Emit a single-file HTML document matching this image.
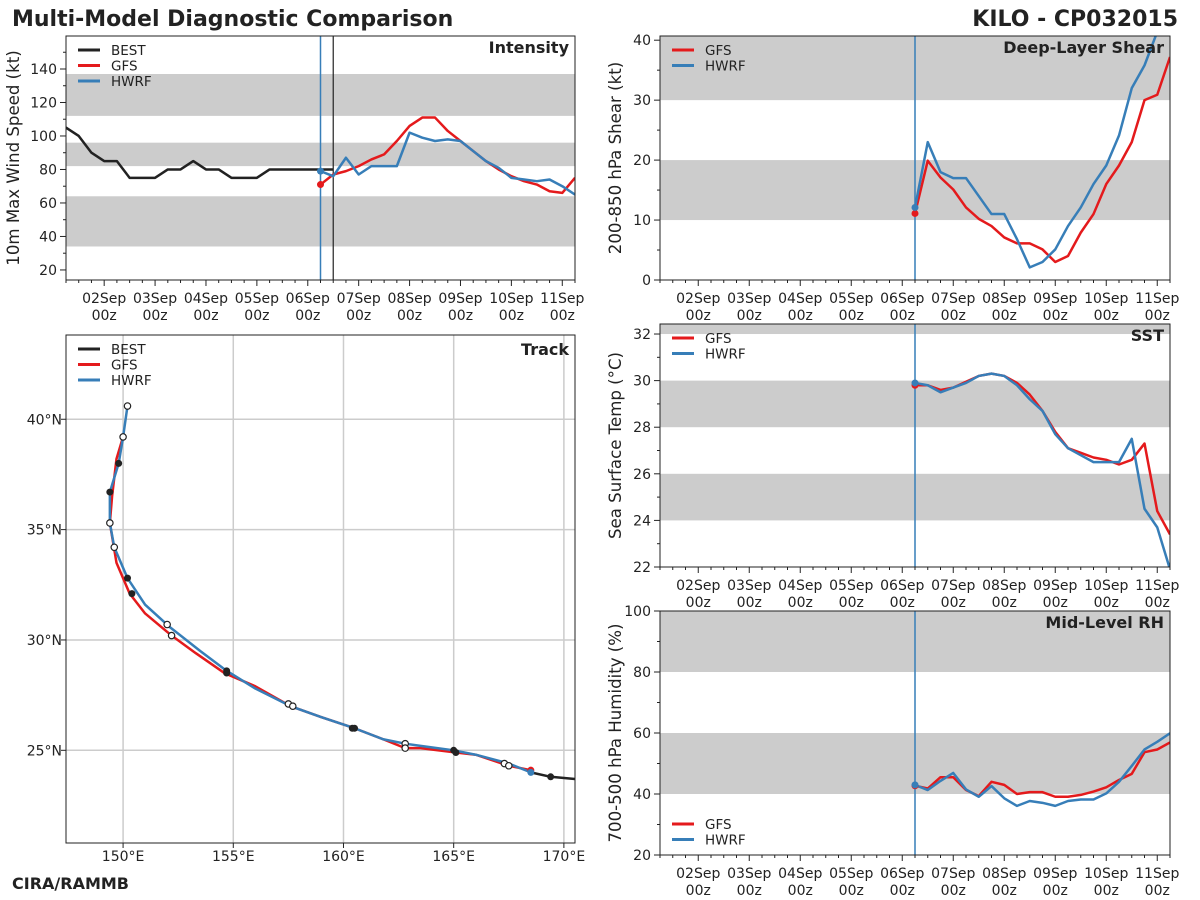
<!DOCTYPE html>
<html><head><meta charset="utf-8"><style>
body{margin:0;background:#fff;}
svg{display:block;font-family:"DejaVu Sans","Liberation Sans",sans-serif;}
</style></head><body>
<svg id="c" width="1200" height="900" xmlns="http://www.w3.org/2000/svg">
<text x="12" y="26" font-size="22" font-weight="bold" fill="#222">Multi-Model Diagnostic Comparison</text>
<text x="1178" y="26" font-size="22" font-weight="bold" fill="#222" text-anchor="end">KILO - CP032015</text>
<text x="12" y="889" font-size="16" font-weight="bold" fill="#222">CIRA/RAMMB</text>
</svg>
<script>
// ---- data ----
const bestInt = [105,100,90,85,85,75,75,75,80,80,85,80,80,75,75,75,80,80,80,80,80,80];
const gfsInt = [71,77,79,82,86,89,97,106,111,111,103,97,91,85,80,76,73,71,67,66,75];
const hwrfInt = [79,76,87,77,82,82,82,102,99,97,98,97,91,85,81,75,74,73,74,70,65];
const gfsShear = [11.1,19.9,17.1,15.1,12.1,10.2,9.0,7.1,6.1,6.1,5.1,3.0,4.0,7.9,11,16,19.1,23,30,30.9,37.2];
const hwrfShear = [12.1,23,18,17,17,14,11,11,6.8,2.1,3,5.1,9,12.1,16,19.1,24.1,32,35.8,41.4,46];
const gfsSst = [29.8,29.8,29.6,29.7,29.95,30.2,30.3,30.2,29.9,29.4,28.7,27.8,27.1,26.9,26.7,26.6,26.4,26.6,27.3,24.4,23.4];
const hwrfSst = [29.9,29.8,29.5,29.7,29.9,30.2,30.3,30.2,29.8,29.2,28.7,27.7,27.1,26.8,26.5,26.5,26.5,27.5,24.5,23.7,21.9];
const gfsRh = [42.7,41.8,45.5,45.5,41.3,39.3,44,43,40,40.6,40.6,39.1,39.1,39.7,40.8,42.2,44.6,46.6,53.7,54.6,56.9];
const hwrfRh = [43,41.3,44.3,46.9,41.5,39.1,42.6,38.6,36.1,37.7,37.1,36.1,37.7,38.2,38.2,40.2,44,49.2,54.6,57.1,59.9];
const dayLabels = ["02Sep","03Sep","04Sep","05Sep","06Sep","07Sep","08Sep","09Sep","10Sep","11Sep"];
const hwrfTrackLon = [168.5,167.5,166,165,163.5,162.8,161.8,160.5,159,157.6,156,154.7,153.5,152.1,151,150.2,149.6,149.4,149.4,149.8,150,150.2];
const hwrfTrackLat = [24.0,24.4,24.8,25.0,25.2,25.3,25.5,26.0,26.5,27.0,27.8,28.6,29.5,30.6,31.6,32.8,34.2,35.3,36.7,38,39.2,40.6];
const gfsTrackLon = [168.5,167.5,166,165.1,163.5,162.8,161.8,160.5,159,157.6,156,154.6,153.3,152.2,151,150.3,149.7,149.4,149.5,149.7,150];
const gfsTrackLat = [24.1,24.3,24.8,24.9,25.1,25.1,25.5,26.0,26.5,27.0,27.9,28.5,29.4,30.2,31.2,32.1,33.5,35.3,36.5,38.2,39.2];
const bestTrackLon = [168.5,169.4,170.5];
const bestTrackLat = [24.0,23.8,23.7];
const openMarkLon = [150.2,150,149.4,149.6,152,152.2,157.5,157.7,162.8,162.8,167.3,167.5];
const openMarkLat = [40.6,39.2,35.3,34.2,30.7,30.2,27.1,27.0,25.3,25.1,24.4,24.3];
const filledMarkLon = [149.8,149.4,150.2,150.4,154.7,154.7,160.4,160.5,165,165.1,169.4];
const filledMarkLat = [38,36.7,32.8,32.1,28.6,28.5,26,26,25,24.9,23.8];
const lonTicks = [150,155,160,165,170];
const latTicks = [25,30,35,40];

const RED="#e41a1c", BLUE="#377eb8", BLK="#222";
const svg=document.getElementById('c');
const NS="http://www.w3.org/2000/svg";
function mk(tag,attrs,parent,name){const e=document.createElementNS(NS,tag);for(const k in attrs)e.setAttribute(k,attrs[k]);(parent||svg).appendChild(e);


return e;}
function txt(s,x,y,attrs,parent,name){const e=mk('text',Object.assign({x:x,y:y,'font-size':14,fill:'#222'},attrs),parent,name);e.textContent=s;return e;}

function panel(o){
  const g=mk('g',{},svg,o.name);
  const X0=o.x0,X1=o.x1,Y0=o.y0,Y1=o.y1;
  const xs=h=>X0+(h/240)*(X1-X0);
  const ys=v=>Y1-(v-o.ymin)/(o.ymax-o.ymin)*(Y1-Y0);
  const clipId='clip'+o.name;
  const cp=mk('clipPath',{id:clipId},g,'clip');mk('rect',{x:X0,y:Y0,width:X1-X0,height:Y1-Y0},cp,'clip-rect');
  const inner=mk('g',{'clip-path':'url(#'+clipId+')'},g,'plot-area');
  o.bands.forEach(b=>mk('rect',{x:X0,y:ys(b[1]),width:X1-X0,height:ys(b[0])-ys(b[1]),fill:'#cccccc'},inner,'threshold-band'));
  mk('line',{x1:xs(120),x2:xs(120),y1:Y0,y2:Y1,stroke:BLUE,'stroke-width':1.5},inner,'init-time-line');
  if(o.best) mk('line',{x1:xs(126),x2:xs(126),y1:Y0,y2:Y1,stroke:BLK,'stroke-width':1.2},inner,'best-end-line');
  const line=(arr,start,col,name)=>{mk('polyline',{points:arr.map((v,i)=>xs(start+6*i)+','+ys(v)).join(' '),fill:'none',stroke:col,'stroke-width':2.5,'stroke-linejoin':'round'},inner,name);};
  if(o.best) line(o.best,0,BLK,'best-line');
  line(o.gfs,120,RED,'gfs-line');
  line(o.hwrf,120,BLUE,'hwrf-line');
  mk('circle',{cx:xs(120),cy:ys(o.gfs[0]),r:3.5,fill:RED},inner,'gfs-init-dot');
  mk('circle',{cx:xs(120),cy:ys(o.hwrf[0]),r:3.5,fill:BLUE},inner,'hwrf-init-dot');
  mk('rect',{x:X0,y:Y0,width:X1-X0,height:Y1-Y0,fill:'none',stroke:'#222','stroke-width':1},g,'plot-frame');
  for(let h=0;h<=240;h+=6){const maj=(h%24)==18;mk('line',{x1:xs(h),x2:xs(h),y1:Y1,y2:Y1+(maj?6:3),stroke:'#222'},g,'x-tick');}
  dayLabels.forEach((d,i)=>{const x=xs(18+24*i);txt(d,x,Y1+23,{'text-anchor':'middle'},g,'x-tick-label');txt('00z',x,Y1+40,{'text-anchor':'middle'},g,'x-tick-label');});
  for(let v=o.ymin0;v<=o.ymax;v+=o.ystep/2){const maj=Math.abs(((v-o.ymin0)/o.ystep)%1)<1e-6;mk('line',{x1:X0,x2:X0-(maj?6:3),y1:ys(v),y2:ys(v),stroke:'#222'},g,'y-tick');if(maj)txt(String(v),X0-9,ys(v)+5,{'text-anchor':'end'},g,'y-tick-label');}
  const cy=(Y0+Y1)/2;
  txt(o.ylabel,0,0,{'font-size':16.6,'text-anchor':'middle',transform:'translate('+(X0-o.ylabOff)+','+cy+') rotate(-90)'},g,'y-axis-title');
  txt(o.title,X1-6,Y0+17,{'font-size':16,'font-weight':'bold','text-anchor':'end'},g,'panel-title');
  legend(g,X0+12,o.legendY,o.best?[['BEST',BLK],['GFS',RED],['HWRF',BLUE]]:[['GFS',RED],['HWRF',BLUE]]);
}
function legend(g,x,y,items){
  items.forEach((it,i)=>{const yy=y+i*15.5;mk('line',{x1:x,x2:x+22,y1:yy,y2:yy,stroke:it[1],'stroke-width':3},g,'legend-swatch');txt(it[0],x+33,yy+5,{'font-size':13.5},g,'legend-entry');});
}
panel({name:'intensity-panel',x0:66,x1:575,y0:36,y1:280,ymin:14,ymax:159.7,ymin0:20,ystep:20,bands:[[34,64],[82,96],[112,137]],best:bestInt,gfs:gfsInt,hwrf:hwrfInt,ylabel:'10m Max Wind Speed (kt)',ylabOff:47,title:'Intensity',legendY:50});
panel({name:'shear-panel',x0:660,x1:1170,y0:36,y1:280,ymin:0,ymax:40.7,ymin0:0,ystep:10,bands:[[10,20],[30,50]],gfs:gfsShear,hwrf:hwrfShear,ylabel:'200-850 hPa Shear (kt)',ylabOff:39,title:'Deep-Layer Shear',legendY:50});
panel({name:'sst-panel',x0:660,x1:1170,y0:324,y1:567,ymin:22,ymax:32.43,ymin0:22,ystep:2,bands:[[24,26],[28,30],[32,34]],gfs:gfsSst,hwrf:hwrfSst,ylabel:'Sea Surface Temp (°C)',ylabOff:39,title:'SST',legendY:338});
panel({name:'rh-panel',x0:660,x1:1170,y0:611,y1:855,ymin:20,ymax:100,ymin0:20,ystep:20,bands:[[40,60],[80,100]],gfs:gfsRh,hwrf:hwrfRh,ylabel:'700-500 hPa Humidity (%)',ylabOff:39,title:'Mid-Level RH',legendY:824});

(function(){
  const g=mk('g',{},svg,'track-panel');
  const X0=66,X1=575,Y0=335,Y1=843;
  const xs=l=>X0+(l-147.41)*22.04, ys=l=>Y1-(l-20.8)*22.07;
  const cp=mk('clipPath',{id:'cliptrack'},g,'clip');mk('rect',{x:X0,y:Y0,width:X1-X0,height:Y1-Y0},cp,'clip-rect');
  const inner=mk('g',{'clip-path':'url(#cliptrack)'},g,'plot-area');
  lonTicks.forEach(l=>{mk('line',{x1:xs(l),x2:xs(l),y1:Y0,y2:Y1,stroke:'#cccccc','stroke-width':1.5},inner,'lon-gridline');});
  latTicks.forEach(l=>{mk('line',{x1:X0,x2:X1,y1:ys(l),y2:ys(l),stroke:'#cccccc','stroke-width':1.5},inner,'lat-gridline');});
  const tl=(lon,lat,col,name)=>mk('polyline',{points:lon.map((v,i)=>xs(v)+','+ys(lat[i])).join(' '),fill:'none',stroke:col,'stroke-width':2.5,'stroke-linejoin':'round'},inner,name);
  tl(bestTrackLon,bestTrackLat,BLK,'best-track');
  tl(gfsTrackLon,gfsTrackLat,RED,'gfs-track');
  tl(hwrfTrackLon,hwrfTrackLat,BLUE,'hwrf-track');
  mk('circle',{cx:xs(gfsTrackLon[0]),cy:ys(gfsTrackLat[0]),r:3.5,fill:RED},inner,'gfs-track-start');
  mk('circle',{cx:xs(hwrfTrackLon[0]),cy:ys(hwrfTrackLat[0]),r:3.5,fill:BLUE},inner,'hwrf-track-start');
  openMarkLon.forEach((l,i)=>mk('circle',{cx:xs(l),cy:ys(openMarkLat[i]),r:3.2,fill:'#fff',stroke:'#222','stroke-width':1.2},inner,'track-marker-12z'));
  filledMarkLon.forEach((l,i)=>mk('circle',{cx:xs(l),cy:ys(filledMarkLat[i]),r:3.5,fill:'#222'},inner,'track-marker-00z'));
  mk('rect',{x:X0,y:Y0,width:X1-X0,height:Y1-Y0,fill:'none',stroke:'#222'},g,'plot-frame');
  lonTicks.forEach(l=>{mk('line',{x1:xs(l),x2:xs(l),y1:Y1,y2:Y1+5,stroke:'#222'},g,'x-tick');txt(l+'°E',xs(l),Y1+18,{'text-anchor':'middle'},g,'x-tick-label');});
  latTicks.forEach(l=>{mk('line',{x1:X0,x2:X0-5,y1:ys(l),y2:ys(l),stroke:'#222'},g,'y-tick');txt(l+'°N',X0-4,ys(l)+5,{'text-anchor':'end'},g,'y-tick-label');});
  txt('Track',X1-6,Y0+20,{'font-size':16,'font-weight':'bold','text-anchor':'end'},g,'panel-title');
  legend(g,X0+12,349,[['BEST',BLK],['GFS',RED],['HWRF',BLUE]]);
})();
</script>
</body></html>
